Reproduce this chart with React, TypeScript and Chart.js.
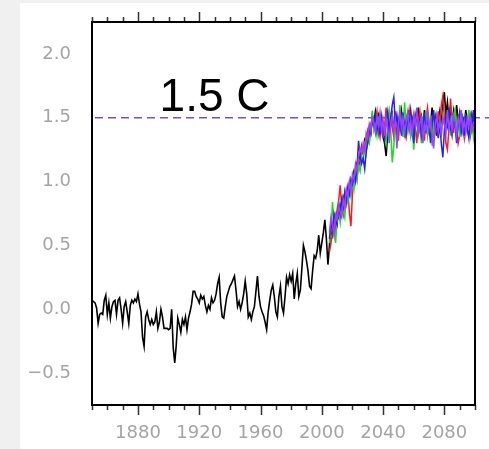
import React, { useEffect, useRef } from "react";
import { Chart, registerables } from "chart.js";

Chart.register(...registerables);

// ---- data ----
const histStartYear = 1850;
// observed / model black line, 1850-2004
const blackHist = [
  0.07, 0.06, 0.05, 0.01, -0.11, -0.04, -0.03, -0.04, 0.07, 0.11, // 1850
  -0.04, 0.05, -0.07, 0.02, 0.06, 0.07, -0.04, 0.07, 0.09, 0.0, // 1860
  -0.11, 0.02, 0.06, -0.02, -0.11, 0.03, 0.07, 0.05, 0.08, 0.06, // 1870
  0.12, 0.04, -0.02, -0.22, -0.29, -0.06, -0.02, -0.08, -0.12, -0.08, // 1880
  -0.12, -0.1, -0.02, -0.15, -0.1, 0.0, -0.06, -0.15, -0.15, -0.15, // 1890
  -0.16, -0.15, 0.0, -0.3, -0.42, -0.28, -0.07, -0.12, -0.18, -0.08, // 1900
  -0.12, -0.06, -0.16, -0.07, -0.02, 0.04, 0.14, 0.14, 0.1, 0.08, // 1910
  0.05, 0.11, 0.08, 0.1, 0.03, -0.02, 0.03, 0.0, 0.09, 0.05, // 1920
  0.07, 0.12, 0.2, 0.25, 0.05, -0.06, -0.07, 0.02, 0.1, 0.14, // 1930
  0.18, 0.2, 0.23, 0.26, 0.15, 0.02, 0.06, 0.0, 0.05, 0.12, // 1940
  0.22, 0.12, -0.06, -0.03, -0.08, -0.02, 0.02, 0.14, 0.26, 0.1, // 1950
  0.02, -0.02, -0.05, -0.1, -0.16, -0.02, 0.07, 0.15, 0.19, 0.1, // 1960
  -0.02, -0.06, 0.1, 0.18, 0.02, -0.03, 0.1, 0.25, 0.2, 0.27, // 1970
  0.22, 0.28, 0.08, 0.2, 0.28, 0.1, 0.15, 0.32, 0.5, 0.45, // 1980
  0.38, 0.3, 0.18, 0.16, 0.3, 0.42, 0.4, 0.46, 0.58, 0.44, // 1990
  0.52, 0.6, 0.7, 0.55, 0.35, // 2000-2004
];

const projStartYear = 2005;
const blackProj = [
  0.5, 0.62, 0.58, 0.7, 0.66, 0.75, 0.72, 0.82, 0.78, 0.88, // 2005
  0.84, 0.92, 0.86, 0.98, 0.95, 1.02, 1.08, 1.04, 1.14, 1.12, // 2015
  1.2, 1.25, 1.22, 1.32, 1.28, 1.36, 1.42, 1.38, 1.52, 1.46, // 2025
  1.55, 1.48, 1.52, 1.4, 1.45, 1.35, 1.3, 1.2, 1.38, 1.5, // 2035
  1.44, 1.52, 1.4, 1.46, 1.36, 1.48, 1.42, 1.55, 1.45, 1.38, // 2045
  1.5, 1.44, 1.56, 1.4, 1.48, 1.36, 1.52, 1.46, 1.58, 1.42, // 2055
  1.5, 1.38, 1.56, 1.44, 1.52, 1.4, 1.46, 1.58, 1.42, 1.5, // 2065
  1.36, 1.48, 1.55, 1.45, 1.6, 1.7, 1.52, 1.62, 1.48, 1.58, // 2075
  1.46, 1.55, 1.42, 1.6, 1.47, 1.53, 1.4, 1.5, 1.44, 1.56, // 2085
  1.42, 1.5, 1.38, 1.52, 1.46, 1.4, // 2095-2100
];
const redProj = [
  0.45, 0.52, 0.6, 0.7, 0.62, 0.78, 0.85, 0.97, 0.8, 0.74,
  0.88, 0.82, 0.92, 0.76, 0.65, 0.9, 1.05, 1.1, 1.02, 1.18,
  1.15, 1.28, 1.22, 1.3, 1.25, 1.4, 1.36, 1.45, 1.5, 1.42,
  1.48, 1.55, 1.38, 1.46, 1.52, 1.34, 1.44, 1.58, 1.4, 1.36,
  1.5, 1.42, 1.35, 1.55, 1.45, 1.32, 1.48, 1.4, 1.52, 1.38,
  1.34, 1.46, 1.56, 1.42, 1.36, 1.5, 1.44, 1.3, 1.48, 1.55,
  1.4, 1.46, 1.32, 1.5, 1.58, 1.44, 1.38, 1.52, 1.34, 1.46,
  1.4, 1.55, 1.45, 1.6, 1.67, 1.5, 1.3, 1.25, 1.42, 1.65,
  1.48, 1.38, 1.56, 1.44, 1.3, 1.36, 1.5, 1.42, 1.34, 1.48,
  1.4, 1.52, 1.36, 1.44, 1.38, 1.46,
];
const greenProj = [
  0.52, 0.62, 0.84, 0.66, 0.52, 0.7, 0.76, 0.68, 0.85, 0.78,
  0.72, 0.9, 0.84, 0.95, 0.88, 1.0, 0.94, 1.08, 1.02, 1.12,
  1.08, 1.2, 1.16, 1.28, 1.22, 1.34, 1.3, 1.38, 1.55, 1.4,
  1.45, 1.36, 1.48, 1.4, 1.52, 1.44, 1.38, 1.3, 1.46, 1.55,
  1.4, 1.15, 1.28, 1.45, 1.5, 1.38, 1.6, 1.44, 1.35, 1.62,
  1.48, 1.4, 1.52, 1.36, 1.45, 1.25, 1.42, 1.5, 1.38, 1.46,
  1.3, 1.48, 1.42, 1.55, 1.36, 1.44, 1.52, 1.28, 1.46, 1.4,
  1.5, 1.35, 1.45, 1.38, 1.52, 1.44, 1.4, 1.56, 1.46, 1.36,
  1.52, 1.42, 1.58, 1.4, 1.48, 1.35, 1.55, 1.46, 1.38, 1.5,
  1.44, 1.56, 1.4, 1.48, 1.35, 1.27,
];
const blueProj = [
  0.55, 0.68, 0.62, 0.75, 0.7, 0.66, 0.8, 0.74, 0.86, 0.8,
  0.92, 0.85, 0.96, 0.9, 1.02, 0.98, 1.06, 1.0, 1.12, 1.32,
  1.2, 1.14, 1.18, 1.1, 1.24, 1.3, 1.42, 1.38, 1.48, 1.44,
  1.52, 1.4, 1.46, 1.36, 1.5, 1.42, 1.34, 1.48, 1.55, 1.38,
  1.5, 1.6, 1.66, 1.45, 1.52, 1.4, 1.48, 1.36, 1.54, 1.44,
  1.38, 1.5, 1.42, 1.56, 1.46, 1.3, 1.45, 1.52, 1.4, 1.48,
  1.36, 1.44, 1.54, 1.38, 1.5, 1.42, 1.3, 1.46, 1.56, 1.4,
  1.48, 1.34, 1.45, 1.3, 1.19, 1.4, 1.52, 1.44, 1.58, 1.42,
  1.36, 1.5, 1.44, 1.3, 1.46, 1.54, 1.4, 1.48, 1.36, 1.52,
  1.42, 1.34, 1.5, 1.44, 1.56, 1.4,
];
const purpleProj = [
  0.6, 0.72, 0.66, 0.58, 0.74, 0.7, 0.82, 0.76, 0.72, 0.86,
  0.8, 0.94, 0.88, 1.0, 0.92, 1.06, 1.02, 1.14, 1.08, 1.2,
  1.26, 1.22, 1.3, 1.24, 1.38, 1.34, 1.45, 1.4, 1.5, 1.46,
  1.38, 1.5, 1.44, 1.54, 1.4, 1.48, 1.36, 1.5, 1.42, 1.3,
  1.46, 1.52, 1.4, 1.48, 1.26, 1.44, 1.56, 1.42, 1.5, 1.38,
  1.46, 1.54, 1.4, 1.48, 1.36, 1.52, 1.44, 1.58, 1.38, 1.46,
  1.5, 1.3, 1.45, 1.4, 1.56, 1.42, 1.48, 1.36, 1.26, 1.44,
  1.52, 1.4, 1.48, 1.36, 1.5, 1.45, 1.38, 1.55, 1.42, 1.48,
  1.4, 1.52, 1.46, 1.36, 1.5, 1.44, 1.56, 1.4, 1.48, 1.38,
  1.5, 1.44, 1.52, 1.4, 1.46, 1.48,
];

const xTickLabels = [1880, 1920, 1960, 2000, 2040, 2080];
const yTickLabels = [-0.5, 0.0, 0.5, 1.0, 1.5, 2.0];
const xMin = 1850;
const xMax = 2100;
const yMin = -0.75;
const yMax = 2.25;
const xMinorStep = 10;
const yMinorStep = 0.1;
const refLevel = 1.5;
const refLabel = "1.5 C";
const refLabelYear = 1930;
const refLabelValue = 1.555;

function toPoints(start: number, values: number[]) {
  return values.map((v, i) => ({ x: start + i, y: v }));
}

const tickFont = { family: "'DejaVu Sans', sans-serif", size: 18 };
const tickColor = "#a4a4a4";

const framePlugin = {
  id: "frameTicks",
  beforeDatasetsDraw(chart: any) {
    const { ctx, chartArea: a, scales } = chart;
    const yy = scales.y.getPixelForValue(refLevel);
    ctx.save();
    ctx.strokeStyle = "#7b53b6";
    ctx.lineWidth = 1.5;
    ctx.setLineDash([8, 5]);
    ctx.beginPath();
    ctx.moveTo(a.left + 3, yy);
    ctx.lineTo(chart.width, yy);
    ctx.stroke();
    ctx.restore();
  },
  afterDatasetsDraw(chart: any) {
    const { ctx, chartArea: a, scales } = chart;
    const xs = scales.x;
    const ys = scales.y;
    ctx.save();
    ctx.strokeStyle = "#333";
    ctx.lineWidth = 1.5;
    ctx.beginPath();
    for (let v = xMin; v <= xMax + 1e-6; v += xMinorStep) {
      const px = Math.round(xs.getPixelForValue(v)) + 0.5;
      const major = xTickLabels.includes(Math.round(v));
      const len = major ? 10 : 5;
      ctx.moveTo(px, a.bottom);
      ctx.lineTo(px, a.bottom + len);
      ctx.moveTo(px, a.top);
      ctx.lineTo(px, a.top - len);
    }
    const n = Math.round((yMax - yMin) / yMinorStep);
    for (let i = 0; i <= n; i++) {
      const v = Math.round((yMin + i * yMinorStep) * 100) / 100;
      if (Math.abs(v * 10 - Math.round(v * 10)) > 1e-6) continue;
      const py = Math.round(ys.getPixelForValue(v)) + 0.5;
      const major = yTickLabels.some((t) => Math.abs(t - v) < 1e-6);
      const len = major ? 10 : 5;
      ctx.moveTo(a.left, py);
      ctx.lineTo(a.left - len, py);
      ctx.moveTo(a.right, py);
      ctx.lineTo(a.right + len, py);
    }
    ctx.stroke();
    ctx.strokeStyle = "#000";
    ctx.lineWidth = 2;
    ctx.strokeRect(a.left, a.top, a.right - a.left, a.bottom - a.top);
    ctx.fillStyle = "#000";
    ctx.font = "46px 'Liberation Sans', Arial, sans-serif";
    ctx.textAlign = "center";
    ctx.textBaseline = "alphabetic";
    ctx.fillText(refLabel, xs.getPixelForValue(refLabelYear), ys.getPixelForValue(refLabelValue));
    ctx.restore();
  },
};

export default function App() {
  const canvasRef = useRef<HTMLCanvasElement | null>(null);

  useEffect(() => {
    const canvas = canvasRef.current;
    if (!canvas) return;
    const lineDs = (label: string, data: any[], color: string, order: number, width: number) => ({
      label,
      data,
      borderColor: color,
      backgroundColor: color,
      borderWidth: width,
      pointRadius: 0,
      tension: 0,
      fill: false,
      order,
    });
    const chart = new Chart(canvas, {
      type: "line",
      data: {
        datasets: [
          lineDs("black", [...toPoints(histStartYear, blackHist), ...toPoints(projStartYear, blackProj)], "#000000", 5, 1.6),
          lineDs("red", toPoints(projStartYear, redProj), "#ff1a1a", 4, 1.5),
          lineDs("green", toPoints(projStartYear, greenProj), "#19e019", 3, 1.5),
          lineDs("blue", toPoints(projStartYear, blueProj), "#2020ff", 2, 1.5),
          lineDs("purple", toPoints(projStartYear, purpleProj), "#a040ff", 1, 1.5),
        ],
      },
      options: {
        animation: false,
        responsive: false,
        devicePixelRatio: 1,
        layout: { padding: { top: 19, right: 14, left: 0, bottom: 0 } },
        plugins: { legend: { display: false }, tooltip: { enabled: false } },
        scales: {
          x: {
            type: "linear",
            min: xMin,
            max: xMax,
            grid: { display: false, drawTicks: false },
            border: { display: false },
            afterBuildTicks: (s: any) => {
              s.ticks = xTickLabels.map((v) => ({ value: v }));
            },
            afterFit: (s: any) => {
              s.height = 44;
              s.paddingLeft = 0;
              s.paddingRight = 0;
            },
            ticks: {
              autoSkip: false,
              maxRotation: 0,
              padding: 18,
              color: tickColor,
              font: tickFont,
              callback: (v: any) => String(v),
            },
          },
          y: {
            type: "linear",
            min: yMin,
            max: yMax,
            grid: { display: false, drawTicks: false },
            border: { display: false },
            afterBuildTicks: (s: any) => {
              s.ticks = yTickLabels.map((v) => ({ value: v }));
            },
            afterFit: (s: any) => {
              s.width = 72;
              s.paddingTop = 0;
              s.paddingBottom = 0;
            },
            ticks: {
              autoSkip: false,
              padding: 21,
              color: tickColor,
              font: tickFont,
              callback: (v: any) => (v < 0 ? "\u2212" : "") + Math.abs(Number(v)).toFixed(1),
            },
          },
        },
      },
      plugins: [framePlugin],
    } as any);
    return () => chart.destroy();
  }, []);

  return (
    <div style={{ position: "fixed", left: 0, top: 0, width: 489, height: 449, background: "#f0f0f0", overflow: "hidden" }}>
      <div style={{ position: "absolute", left: 20, top: 3, width: 469, height: 446, background: "#ffffff" }}>
        <canvas ref={canvasRef} width={469} height={446} style={{ display: "block", width: 469, height: 446 }} />
      </div>
    </div>
  );
}
